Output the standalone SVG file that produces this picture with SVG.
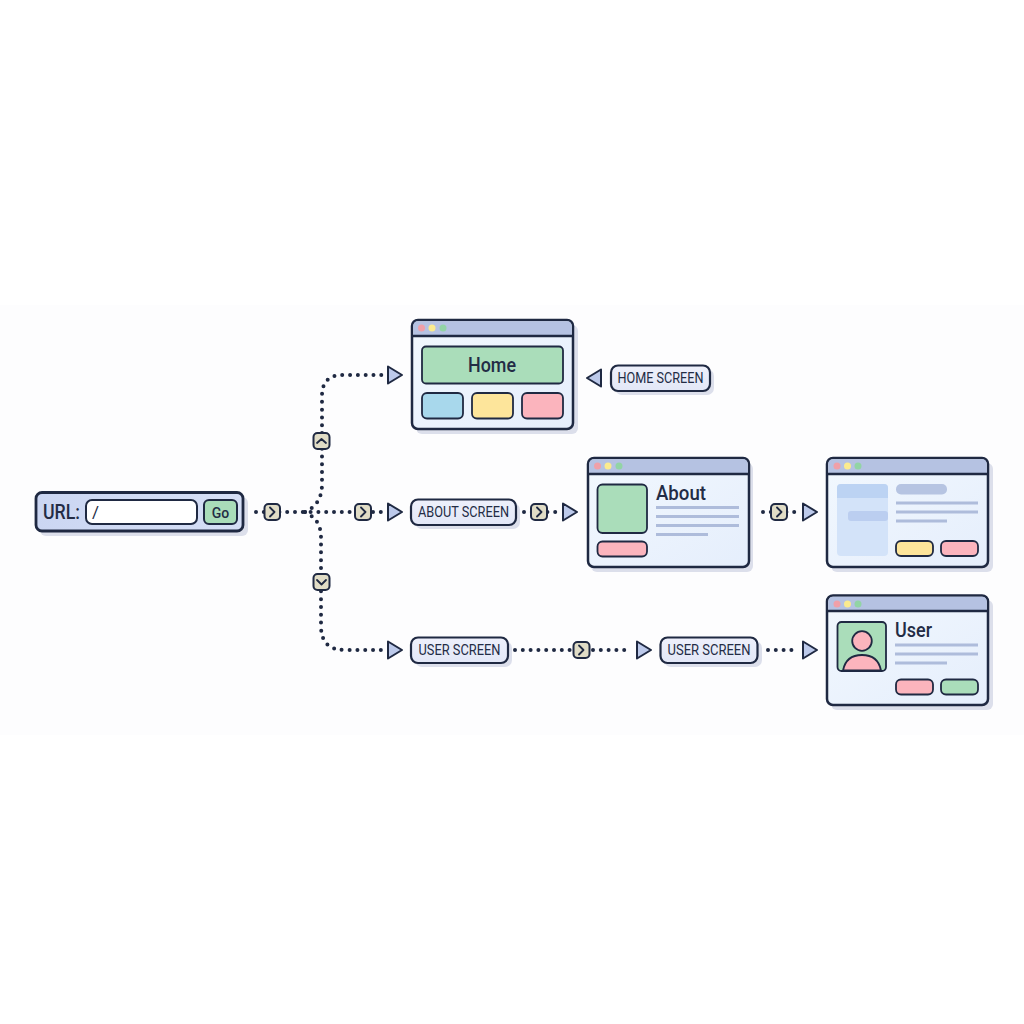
<svg xmlns="http://www.w3.org/2000/svg" width="1024" height="1024" viewBox="0 0 1024 1024">
<style>
.o{stroke:#1f2942;stroke-width:2.5}
.t{stroke:#1f2942;stroke-width:1.8}
.sh{fill:#cdd2e3;opacity:.7}
.win{fill:url(#wg);stroke:#1f2942;stroke-width:2.5}
.bar{fill:#b5c2e2}
.ln{stroke:#aebcdb;stroke-width:3;fill:none}
.g{fill:#aaddba}.p{fill:#fbb4bd}.y{fill:#fde59b}.b{fill:#a8d8ec}
.lab{fill:url(#lg);stroke:#1f2942;stroke-width:2.2}
.lt{font-family:"Roboto","Noto Sans",sans-serif;font-size:14px;font-weight:400;fill:#232c45;text-anchor:middle}
.ht{font-family:"Roboto","Noto Sans",sans-serif;font-size:21px;font-weight:500;fill:#232c45}
.dot{fill:none;stroke:#1f2942;stroke-width:4;stroke-linecap:round;stroke-dasharray:0 7.8}
.chip{fill:#e0dcc6;stroke:#1f2942;stroke-width:2}
.chev{fill:none;stroke:#1f2942;stroke-width:1.8;stroke-linecap:round;stroke-linejoin:round}
.arr{fill:#bcc9ea;stroke:#1f2942;stroke-width:2;stroke-linejoin:round}
</style>
<defs>
<linearGradient id="wg" x1="0" y1="0" x2="1" y2="1"><stop offset="0" stop-color="#f2f8fe"/><stop offset="1" stop-color="#e5eefc"/></linearGradient>
<linearGradient id="lg" x1="0" y1="0" x2="0" y2="1"><stop offset="0" stop-color="#eef0fb"/><stop offset="1" stop-color="#e2e7f7"/></linearGradient>
<linearGradient id="ug" x1="0" y1="0" x2="1" y2="0"><stop offset="0" stop-color="#cbd6f2"/><stop offset="1" stop-color="#d6dff6"/></linearGradient>
</defs>
<rect width="1024" height="1024" fill="#ffffff"/>
<rect y="305" width="1024" height="430" fill="#fdfdfe"/>

<g id="connectors">
<path class="dot" d="M256 512H385"/>
<path class="dot" d="M305 512C318 506 322 496 322 484V396Q322 375 343 375H385"/>
<path class="dot" d="M305 512C317 518 321 526 321 538V626Q321 650 345 650H385"/>
<path class="dot" d="M524 512H556"/>
<path class="dot" d="M763 512H797"/>
<path class="dot" d="M515 650H630"/>
<path class="dot" d="M768 650H797"/>
<path class="arr" d="M388 366.500L402 375L388 383.500Z"/>
<path class="arr" d="M388 503.500L402 512L388 520.500Z"/>
<path class="arr" d="M388 641.500L402 650L388 658.500Z"/>
<path class="arr" d="M601 369.500L587 378L601 386.500Z"/>
<path class="arr" d="M563 503.500L577 512L563 520.500Z"/>
<path class="arr" d="M803 503.500L817 512L803 520.500Z"/>
<path class="arr" d="M637 641.500L651 650L637 658.500Z"/>
<path class="arr" d="M803 641.500L817 650L803 658.500Z"/>
</g>

<g id="chips">
<g id="chip-1"><rect class="chip" x="264.500" y="504" width="15.500" height="16" rx="4"/><path class="chev" d="M270 507.500L274.500 512L270 516.500"/></g>
<g id="chip-2"><rect class="chip" x="355" y="504" width="16" height="16" rx="4"/><path class="chev" d="M361 507.500L365.500 512L361 516.500"/></g>
<g id="chip-up"><rect class="chip" x="313.500" y="433" width="16" height="16" rx="4"/><path class="chev" d="M317 443L321.500 439L326 443"/></g>
<g id="chip-down"><rect class="chip" x="313.500" y="574" width="16" height="16" rx="4"/><path class="chev" d="M317 580L321.500 584.500L326 580"/></g>
<g id="chip-3"><rect class="chip" x="531" y="504" width="16" height="16" rx="4"/><path class="chev" d="M537 507.500L541.500 512L537 516.500"/></g>
<g id="chip-4"><rect class="chip" x="771" y="504" width="16" height="16" rx="4"/><path class="chev" d="M777 507.500L781.500 512L777 516.500"/></g>
<g id="chip-5"><rect class="chip" x="573.500" y="642" width="16" height="16" rx="4"/><path class="chev" d="M579 645.500L583.500 650L579 654.500"/></g>
</g>

<g id="url-bar">
<rect class="sh" x="40" y="497" width="208" height="39" rx="6"/>
<rect x="36" y="492.500" width="207" height="38.500" rx="6" fill="url(#ug)" stroke="#1f2942" stroke-width="2.8"/>
<text x="43" y="518.500" font-family="Roboto,'Noto Sans',sans-serif" font-size="20" font-weight="500" fill="#232c45" textLength="37" lengthAdjust="spacingAndGlyphs">URL:</text>
<rect x="86" y="500" width="111" height="24" rx="6" fill="#fff" stroke="#1f2942" stroke-width="2"/>
<text x="92" y="518" font-family="Roboto,'Noto Sans',sans-serif" font-size="17" fill="#232c45">/</text>
<rect x="204" y="500" width="33" height="24" rx="5" fill="#a9dcb9" stroke="#1f2942" stroke-width="2"/>
<text x="220.500" y="518" text-anchor="middle" font-family="Roboto,'Noto Sans',sans-serif" font-size="14" font-weight="500" fill="#232c45">Go</text>
</g>

<g id="home-window">
<rect class="sh" x="416" y="325" width="162" height="109" rx="6"/>
<rect class="win" x="412" y="320" width="161" height="109" rx="6"/>
<path class="bar" d="M413.300 336V326Q413.300 321.300 418 321.300H567Q571.700 321.300 571.700 326V336Z"/>
<path class="o" d="M412 336H573" fill="none"/>
<circle cx="421.500" cy="328" r="3.500" fill="#f0a0a8"/><circle cx="432" cy="328" r="3.500" fill="#fbeb8e"/><circle cx="443" cy="328" r="3.500" fill="#92d4a5"/>
<rect class="g t" x="422" y="346.500" width="141" height="37" rx="4"/>
<text class="ht" x="492" y="372" text-anchor="middle" textLength="48" lengthAdjust="spacingAndGlyphs">Home</text>
<rect class="b t" x="422" y="393" width="41" height="25.500" rx="5"/>
<rect class="y t" x="472" y="393" width="41" height="25.500" rx="5"/>
<rect class="p t" x="522" y="393" width="41" height="25.500" rx="5"/>
</g>

<g id="home-label">
<rect class="sh" x="615" y="369" width="99" height="26" rx="7"/>
<rect class="lab" x="611" y="365.500" width="99" height="25.500" rx="7"/>
<text class="lt" x="660.500" y="383" textLength="86" lengthAdjust="spacingAndGlyphs">HOME SCREEN</text>
</g>

<g id="about-label">
<rect class="sh" x="415" y="503" width="105" height="26" rx="7"/>
<rect class="lab" x="411" y="499.500" width="105" height="25.500" rx="7"/>
<text class="lt" x="463.500" y="517" textLength="91" lengthAdjust="spacingAndGlyphs">ABOUT SCREEN</text>
</g>

<g id="about-window">
<rect class="sh" x="591" y="463" width="162" height="109" rx="6"/>
<rect class="win" x="588" y="458" width="161" height="109" rx="6"/>
<path class="bar" d="M589.300 474V464Q589.300 459.300 594 459.300H743Q747.700 459.300 747.700 464V474Z"/>
<path class="o" d="M588 474H749" fill="none"/>
<circle cx="597.500" cy="466" r="3.500" fill="#f0a0a8"/><circle cx="608" cy="466" r="3.500" fill="#fbeb8e"/><circle cx="619" cy="466" r="3.500" fill="#92d4a5"/>
<rect class="g t" x="597.500" y="484.500" width="49.500" height="48.500" rx="5"/>
<rect class="p t" x="597.500" y="541.500" width="49.500" height="15" rx="5"/>
<text class="ht" x="656" y="500" textLength="50" lengthAdjust="spacingAndGlyphs">About</text>
<path class="ln" d="M656 507.500H739M656 516.500H739M656 525.500H739M656 534.500H708"/>
</g>

<g id="blank-window">
<rect class="sh" x="831" y="463" width="162" height="109" rx="6"/>
<rect class="win" x="827" y="458" width="161" height="109" rx="6"/>
<path class="bar" d="M828.300 474V464Q828.300 459.300 833 459.300H982Q986.700 459.300 986.700 464V474Z"/>
<path class="o" d="M827 474H988" fill="none"/>
<circle cx="837" cy="466" r="3.500" fill="#f0a0a8"/><circle cx="847.500" cy="466" r="3.500" fill="#fbeb8e"/><circle cx="858" cy="466" r="3.500" fill="#92d4a5"/>
<rect x="837" y="484" width="51" height="72" rx="4" fill="#d3e3f9"/>
<path d="M837 498V488Q837 484 841 484H884Q888 484 888 488V498Z" fill="#bcd3f3"/>
<rect x="848" y="511" width="40" height="10" rx="3" fill="#bbcef0"/>
<rect x="896" y="484" width="51" height="10.500" rx="5" fill="#b6c4e2"/>
<path class="ln" d="M896 503H978M896 512H978M896 521H947"/>
<rect class="y t" x="896" y="541" width="37" height="15" rx="5"/>
<rect class="p t" x="941" y="541" width="37" height="15" rx="5"/>
</g>

<g id="user-label-1">
<rect class="sh" x="415" y="641" width="97" height="26" rx="7"/>
<rect class="lab" x="411" y="637.500" width="97" height="25.500" rx="7"/>
<text class="lt" x="459.500" y="655" textLength="82" lengthAdjust="spacingAndGlyphs">USER SCREEN</text>
</g>

<g id="user-label-2">
<rect class="sh" x="664" y="641" width="98" height="26" rx="7"/>
<rect class="lab" x="660.500" y="637.500" width="97" height="25.500" rx="7"/>
<text class="lt" x="709" y="655" textLength="83" lengthAdjust="spacingAndGlyphs">USER SCREEN</text>
</g>

<g id="user-window">
<rect class="sh" x="831" y="600" width="162" height="110" rx="6"/>
<rect class="win" x="827" y="595.500" width="161" height="109.500" rx="6"/>
<path class="bar" d="M828.300 611V601.500Q828.300 596.800 833 596.800H982Q986.700 596.800 986.700 601.500V611Z"/>
<path class="o" d="M827 611H988" fill="none"/>
<circle cx="837" cy="604" r="3.500" fill="#f0a0a8"/><circle cx="847.500" cy="604" r="3.500" fill="#fbeb8e"/><circle cx="858" cy="604" r="3.500" fill="#92d4a5"/>
<rect class="g t" x="837.500" y="622" width="48.500" height="49" rx="4"/>
<circle class="p t" cx="862" cy="641" r="9.800"/>
<path class="p t" d="M843 670.500C845 660 852 655 862 655C872 655 879 660 881 670.500Z"/>
<text class="ht" x="895" y="637" textLength="37" lengthAdjust="spacingAndGlyphs">User</text>
<path class="ln" d="M895 645H978M895 654H978M895 663H947"/>
<rect class="p t" x="896" y="679.500" width="37" height="15" rx="5"/>
<rect class="g t" x="941" y="679.500" width="37" height="15" rx="5"/>
</g>
</svg>
